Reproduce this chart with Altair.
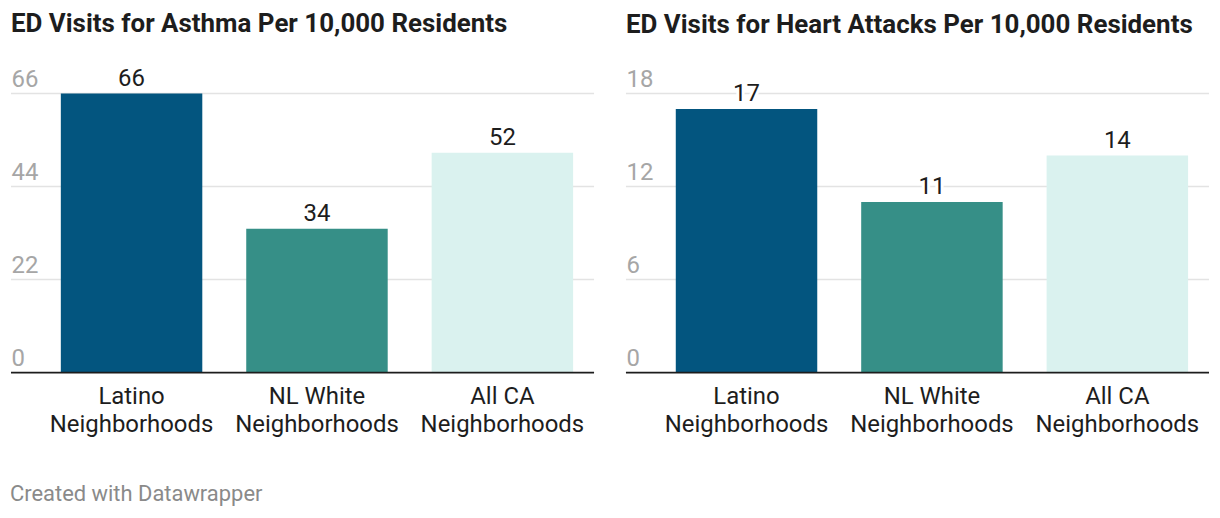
import altair as alt
import pandas as pd

categories = ["Latino Neighborhoods", "NL White Neighborhoods", "All CA Neighborhoods"]
asthma = [66, 34, 52]
heart = [17, 11, 14]
asthma_ticks = [0, 22, 44, 66]
heart_ticks = [0, 6, 12, 18]
colors = ["#03557f", "#368f87", "#daf2ef"]
titles = ["ED Visits for Asthma Per 10,000 Residents",
          "ED Visits for Heart Attacks Per 10,000 Residents"]

FONT = "Roboto"


def panel(values, ticks, title):
    df = pd.DataFrame({"cat": categories, "v": values, "color": colors})
    x = alt.X("cat:N", sort=categories, title=None,
              scale=alt.Scale(range=[50, 564], paddingInner=0.237, paddingOuter=0),
              axis=alt.Axis(domain=False, ticks=False, labelAngle=0, labelFontSize=24,
                            labelColor="#1d1d1d", labelFont=FONT, labelPadding=12,
                            labelLineHeight=28, labelLimit=300,
                            labelExpr="[replace(datum.label, ' Neighborhoods', ''), 'Neighborhoods']"))
    yscale = alt.Scale(domain=[ticks[0], ticks[-1]], nice=False)
    y = alt.Y("v:Q", title=None, scale=yscale,
              axis=alt.Axis(values=ticks, grid=False,
                            domain=False, ticks=False, labelAlign="left",
                            labelBaseline="alphabetic", labelPadding=0, labelOffset=-7,
                            labelFontSize=24, labelColor="#a6a6a6", labelFont=FONT))
    grid = alt.Chart(pd.DataFrame({"t": ticks[1:]})).mark_rule(
        color="#e3e3e3", strokeWidth=1.5).encode(
        y=alt.Y("t:Q", scale=yscale), x=alt.value(0), x2=alt.value(585))
    bars = alt.Chart(df).mark_bar().encode(
        x=x, y=y, color=alt.Color("color:N", scale=None))
    halo = alt.Chart(df).mark_text(baseline="alphabetic", dy=-8, fontSize=24, font=FONT,
                                   stroke="white", strokeWidth=6, fill="white").encode(
        x=alt.X("cat:N", sort=categories), y="v:Q", text="v:Q")
    labels = alt.Chart(df).mark_text(baseline="alphabetic", dy=-8, fontSize=24, font=FONT,
                                     color="#1d1d1d").encode(
        x=alt.X("cat:N", sort=categories), y="v:Q", text="v:Q")
    base = alt.Chart(pd.DataFrame({"z": [ticks[0]]})).mark_rule(
        color="#1d1d1d", strokeWidth=2).encode(
        y="z:Q", x=alt.value(0), x2=alt.value(585))
    return alt.layer(grid, bars, base, halo, labels).properties(
        width=585, height=280,
        title=alt.TitleParams(title, anchor="start", fontSize=26, font=FONT,
                              fontWeight="bold", color="#1d1d1d", frame="group",
                              offset=30))


chart = alt.hconcat(
    panel(asthma, asthma_ticks, titles[0]),
    panel(heart, heart_ticks, titles[1]),
    spacing=30,
).resolve_scale(y="independent").properties(
    padding={"left": 2, "top": 2, "right": 2, "bottom": 4},
    title=alt.TitleParams("Created with Datawrapper", orient="bottom", anchor="start",
                          fontSize=22, font=FONT, fontWeight="normal", color="#8a8a8a",
                          offset=48),
).configure_view(stroke=None).configure_concat(spacing=30)

chart.save("out.html", embed_options={"renderer": "svg", "actions": False})
